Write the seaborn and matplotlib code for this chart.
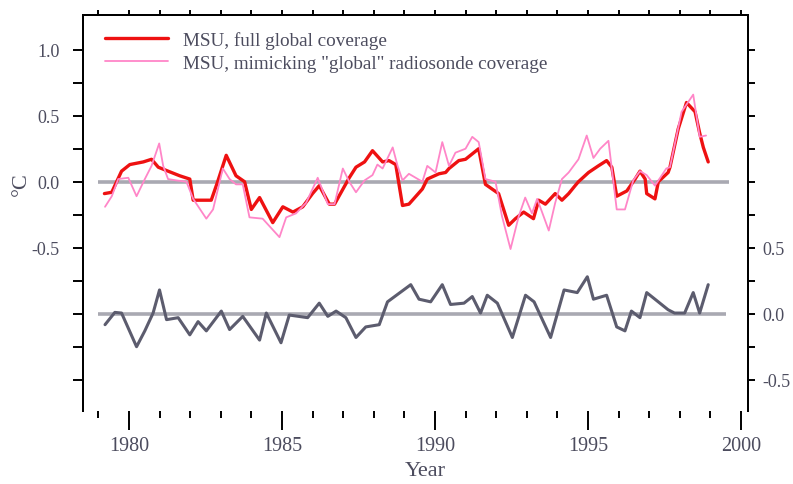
import numpy as np
import pandas as pd
import matplotlib
matplotlib.use("Agg")
import matplotlib.pyplot as plt
import seaborn as sns
from matplotlib.ticker import FixedLocator

# values
red_years = [1979.2, 1979.44, 1979.76, 1980.03, 1980.47, 1980.74, 1980.96, 1981.28, 1981.66, 1981.99,
             1982.1, 1982.69, 1982.9, 1983.18, 1983.5, 1983.78, 1984.0, 1984.27, 1984.7, 1985.03,
             1985.36, 1985.68, 1986.0, 1986.22, 1986.55, 1986.72, 1987.2, 1987.42, 1987.7, 1987.96,
             1988.29, 1988.5, 1988.72, 1988.94, 1989.15, 1989.59, 1989.75, 1990.13, 1990.35, 1990.46,
             1990.78, 1991.0, 1991.43, 1991.65, 1992.08, 1992.41, 1992.63, 1992.9, 1993.22, 1993.39,
             1993.61, 1993.93, 1994.15, 1994.37, 1994.58, 1994.69, 1995.02, 1995.34, 1995.61, 1995.78,
             1995.94, 1996.27, 1996.54, 1996.7, 1996.87, 1996.92, 1997.19, 1997.3, 1997.62, 1997.68,
             1997.95, 1998.22, 1998.5, 1998.65, 1998.77, 1998.93]
red_vals = [-0.09, -0.08, 0.08, 0.13, 0.15, 0.17, 0.11, 0.08, 0.045, 0.02,
            -0.14, -0.14, 0.0, 0.20, 0.045, 0.0, -0.21, -0.12, -0.31, -0.19,
            -0.23, -0.19, -0.09, -0.03, -0.17, -0.17, 0.03, 0.11, 0.15, 0.235,
            0.15, 0.16, 0.13, -0.18, -0.17, -0.055, 0.02, 0.06, 0.07, 0.10,
            0.16, 0.17, 0.25, -0.02, -0.09, -0.33, -0.28, -0.23, -0.28, -0.14,
            -0.17, -0.09, -0.14, -0.09, -0.03, 0.0, 0.07, 0.12, 0.16, 0.11,
            -0.11, -0.07, 0.02, 0.08, 0.02, -0.09, -0.13, 0.0, 0.07, 0.11,
            0.40, 0.60, 0.53, 0.37, 0.26, 0.15]

pink_years = [1979.22, 1979.44, 1979.65, 1979.98, 1980.25, 1980.52, 1980.74, 1980.99, 1981.12, 1981.28,
              1981.55, 1981.88, 1982.1, 1982.53, 1982.75, 1983.07, 1983.29, 1983.5, 1983.72, 1983.94,
              1984.37, 1984.92, 1985.14, 1985.46, 1985.79, 1986.17, 1986.5, 1986.72, 1986.99, 1987.2,
              1987.42, 1987.7, 1987.96, 1988.12, 1988.29, 1988.62, 1988.78, 1988.94, 1989.15, 1989.59,
              1989.75, 1990.02, 1990.24, 1990.46, 1990.67, 1991.0, 1991.22, 1991.43, 1991.65, 1991.98,
              1992.19, 1992.47, 1992.74, 1992.95, 1993.17, 1993.34, 1993.5, 1993.72, 1993.93, 1994.15,
              1994.37, 1994.69, 1994.96, 1995.18, 1995.4, 1995.67, 1995.94, 1996.21, 1996.48, 1996.7,
              1996.92, 1997.19, 1997.56, 1997.68, 1998.06, 1998.44, 1998.65, 1998.86]
pink_vals = [-0.19, -0.11, 0.02, 0.03, -0.11, 0.02, 0.12, 0.29, 0.12, 0.02,
             0.01, 0.0, -0.13, -0.28, -0.21, 0.10, 0.02, -0.02, -0.02, -0.27,
             -0.28, -0.42, -0.27, -0.24, -0.16, 0.03, -0.17, -0.17, 0.10, 0.0,
             -0.08, 0.01, 0.05, 0.13, 0.10, 0.26, 0.12, 0.01, 0.06, 0.0,
             0.12, 0.07, 0.30, 0.12, 0.22, 0.25, 0.34, 0.30, 0.02, 0.0,
             -0.26, -0.51, -0.26, -0.12, -0.24, -0.13, -0.23, -0.37, -0.16, 0.02,
             0.07, 0.17, 0.35, 0.18, 0.25, 0.31, -0.21, -0.21, 0.01, 0.08,
             0.05, -0.03, 0.10, 0.11, 0.53, 0.66, 0.34, 0.35]

diff_years = [1979.22, 1979.54, 1979.76, 1980.25, 1980.52, 1980.79, 1981.0, 1981.23, 1981.61, 1981.99,
              1982.26, 1982.53, 1983.02, 1983.29, 1983.72, 1984.27, 1984.49, 1984.97, 1985.24, 1985.84,
              1986.22, 1986.5, 1986.77, 1987.09, 1987.42, 1987.74, 1988.18, 1988.45, 1989.21, 1989.48,
              1989.86, 1990.24, 1990.51, 1990.95, 1991.22, 1991.49, 1991.71, 1992.04, 1992.53, 1992.96,
              1993.24, 1993.78, 1994.22, 1994.65, 1994.98, 1995.18, 1995.61, 1995.94, 1996.21, 1996.42,
              1996.7, 1996.92, 1997.19, 1997.62, 1997.83, 1998.16, 1998.44, 1998.65, 1998.93]
diff_vals = [-0.083, 0.01, 0.005, -0.25, -0.13, 0.005, 0.18, -0.045, -0.03, -0.16,
             -0.06, -0.13, 0.02, -0.12, -0.02, -0.20, 0.005, -0.22, -0.01, -0.03,
             0.08, -0.02, 0.02, -0.03, -0.18, -0.10, -0.083, 0.09, 0.22, 0.11,
             0.09, 0.22, 0.07, 0.08, 0.13, 0.005, 0.14, 0.08, -0.18, 0.14,
             0.09, -0.18, 0.18, 0.16, 0.28, 0.11, 0.14, -0.10, -0.13, 0.02,
             -0.03, 0.16, 0.11, 0.03, 0.005, 0.005, 0.16, 0.005, 0.22]

labels = ["MSU, full global coverage", 'MSU, mimicking "global" radiosonde coverage']

sns.set_style("white")
plt.rcParams["font.family"] = ["Liberation Serif", "DejaVu Serif"]
txt = "#4c4c5e"

fig = plt.figure(figsize=(7.93, 4.85), dpi=100)
ax = fig.add_axes([83 / 793, 1 - 412 / 485, 665 / 793, 396 / 485])
ax2 = ax.twinx()

ax.hlines(0, 1979.0, 1999.6, color="#a9a9b2", lw=2.6, zorder=1)
ax2.hlines(0, 1979.0, 1999.5, color="#a9a9b2", lw=2.6, zorder=1)

red = pd.DataFrame({"year": red_years, "val": red_vals})
pink = pd.DataFrame({"year": pink_years, "val": pink_vals})
diff = pd.DataFrame({"year": diff_years, "val": diff_vals})

sns.lineplot(data=red, x="year", y="val", ax=ax, color="#ee1111", lw=2.4,
             label=labels[0], sort=False, estimator=None, zorder=3)
sns.lineplot(data=pink, x="year", y="val", ax=ax, color="#ff86c8", lw=1.3,
             label=labels[1], sort=False, estimator=None, zorder=4)
sns.lineplot(data=diff, x="year", y="val", ax=ax2, color="#5c5c6e", lw=2.2,
             sort=False, estimator=None, zorder=3)

ax.set_xlim(1978.5, 2000.23)
ax.set_ylim(-1.737, 1.263)
ax2.set_ylim(-0.737, 2.263)

# spines
for a in (ax, ax2):
    for s in a.spines.values():
        s.set_color("black")
        s.set_linewidth(1.4)
    a.spines["bottom"].set_visible(False)

# x ticks
ax.set_xticks([1980, 1985, 1990, 1995, 2000])
ax.xaxis.set_minor_locator(FixedLocator([y for y in range(1979, 2001) if y % 5]))
ax.tick_params(axis="x", which="major", length=14, width=1.4, color="black",
               labelsize=14.5, labelcolor=txt, pad=4, bottom=True)
ax.tick_params(axis="x", which="minor", length=5, width=1.4, color="black", bottom=True)
top = ax.secondary_xaxis("top")
top.set_xticks(list(range(1979, 2001)))
top.tick_params(length=3.5, width=1.4, labeltop=False, color="black")
top.spines["top"].set_linewidth(1.4)

# left y ticks
ax.set_yticks([1.0, 0.5, 0.0, -0.5])
ax.set_yticklabels(["1.0", "0.5", "0.0", "-0.5"])
ax.yaxis.set_minor_locator(FixedLocator([0.75, 0.25, -0.25, -0.75, -1.0, -1.25, -1.5]))
ax.tick_params(axis="y", which="both", length=7, width=1.4, color="black",
               labelsize=13, labelcolor=txt, pad=10, left=True)

# right y ticks
ax2.set_yticks([0.5, 0.0, -0.5])
ax2.set_yticklabels(["0.5", "0.0", "-0.5"])
ax2.yaxis.set_minor_locator(FixedLocator([2.0, 1.75, 1.5, 1.25, 1.0, 0.75, 0.25, -0.25]))
ax2.tick_params(axis="y", which="both", length=5, width=1.4, color="black",
                labelsize=13, labelcolor=txt, pad=5, right=True)
ax2.set_ylabel("")

ax.set_xlabel("Year", fontsize=16, color=txt)
ax.xaxis.set_label_coords(0.514, -0.127)
ax.set_ylabel("°C", fontsize=16, color=txt)
ax.yaxis.set_label_coords(-0.078, 0.575)

leg = ax.legend(loc="upper left", bbox_to_anchor=((105 - 83) / 665, (412 - 32) / 396),
                frameon=False, fontsize=13.8, handlelength=3.3, handletextpad=0.75,
                labelspacing=0.3, borderpad=0, borderaxespad=0)
for t in leg.get_texts():
    t.set_color(txt)

fig.savefig("out.png", dpi=100)
